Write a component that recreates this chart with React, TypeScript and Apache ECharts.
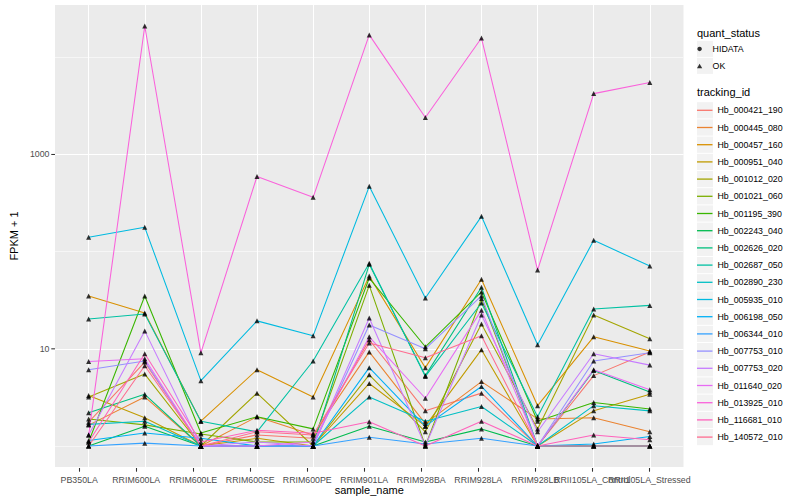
import React, { useEffect, useRef } from 'react';
import * as echarts from 'echarts';

const categories = ['PB350LA', 'RRIM600LA', 'RRIM600LE', 'RRIM600SE', 'RRIM600PE', 'RRIM901LA', 'RRIM928BA', 'RRIM928LA', 'RRIM928LB', 'RRII105LA_Control', 'RRII105LA_Stressed'];

const trackingIds = ['Hb_000421_190', 'Hb_000445_080', 'Hb_000457_160', 'Hb_000951_040', 'Hb_001012_020', 'Hb_001021_060', 'Hb_001195_390', 'Hb_002243_040', 'Hb_002626_020', 'Hb_002687_050', 'Hb_002890_230', 'Hb_005935_010', 'Hb_006198_050', 'Hb_006344_010', 'Hb_007753_010', 'Hb_007753_020', 'Hb_011640_020', 'Hb_013925_010', 'Hb_116681_010', 'Hb_140572_010'];

const colors = ['#F8766D', '#EA8331', '#D89000', '#C09B00', '#A3A500', '#7CAE00', '#39B600', '#00BB4E', '#00BF7D', '#00C1A3', '#00BFC4', '#00BAE0', '#00B0F6', '#35A2FF', '#9590FF', '#C77CFF', '#E76BF3', '#FA62DB', '#FF62BC', '#FF6C90'];

// FPKM + 1 per sample, in category order
const v000421_190 = [1.76, 7.3, 1.0, 1.3, 1.2, 12.4, 2.3, 3.5, 1.0, 5.3, 9.3];
const v000445_080 = [1.64, 3.2, 1.0, 2.0, 1.3, 9.3, 1.7, 4.6, 1.9, 1.95, 1.4];
const v000457_160 = [35, 23.4, 1.8, 6.1, 3.2, 56, 6.4, 52, 2.6, 13.3, 9.5];
const v000951_040 = [3.3, 1.95, 1.0, 1.2, 1.0, 4.4, 1.6, 9.8, 1.0, 2.3, 3.4];
const v001012_020 = [3.2, 5.5, 1.0, 3.5, 1.0, 5.4, 1.4, 18, 1.5, 22.3, 12.7];
const v001021_060 = [1.9, 1.65, 1.33, 1.1, 1.1, 45, 1.0, 33, 1.0, 1.0, 1.0];
const v001195_390 = [1.1, 35, 1.36, 2.0, 1.5, 53.5, 10.5, 38.5, 1.8, 2.8, 2.4];
const v002243_040 = [1.0, 1.6, 1.0, 1.0, 1.0, 1.6, 1.1, 1.5, 1.0, 1.0, 1.0];
const v002626_020 = [2.2, 3.4, 1.0, 1.0, 1.0, 74, 5.3, 43, 1.0, 6.0, 3.6];
const v002687_050 = [20.3, 22.8, 1.8, 1.4, 7.5, 76, 5.2, 29.6, 2.0, 25.7, 28];
const v002890_230 = [1.67, 1.8, 1.0, 1.0, 1.0, 3.2, 1.8, 2.55, 1.0, 2.6, 2.3];
const v005935_010 = [141, 178, 4.7, 19.4, 13.6, 470, 33.4, 231, 11, 131, 71];
const v006198_050 = [1.14, 1.36, 1.2, 1.0, 1.0, 6.4, 1.6, 4.1, 1.0, 1.05, 1.25];
const v006344_010 = [1.0, 1.07, 1.0, 1.0, 1.0, 1.23, 1.05, 1.2, 1.0, 1.0, 1.0];
const v007753_010 = [6.1, 7.5, 1.0, 1.0, 1.0, 17.6, 10.0, 35, 1.0, 7.5, 9.1];
const v007753_020 = [1.3, 15.3, 1.0, 1.1, 1.0, 20.8, 1.0, 22.3, 1.4, 8.9, 6.8];
const v011640_020 = [7.4, 7.9, 1.0, 1.0, 1.1, 13.3, 3.1, 25, 1.0, 6.1, 3.8];
const v013925_010 = [1.3, 21000, 9.1, 594, 362, 17000, 2400, 15800, 64.6, 4230, 5500];
const v116681_010 = [1.1, 8.9, 1.1, 1.45, 1.35, 1.78, 1.0, 1.8, 1.0, 1.3, 1.16];
const v140572_010 = [1.0, 6.7, 1.0, 1.4, 1.3, 11.5, 8.1, 13.6, 1.0, 1.0, 1.0];

const seriesValues = [v000421_190, v000445_080, v000457_160, v000951_040, v001012_020, v001021_060, v001195_390, v002243_040, v002626_020, v002687_050, v002890_230, v005935_010, v006198_050, v006344_010, v007753_010, v007753_020, v011640_020, v013925_010, v116681_010, v140572_010];

const quantStatus = ['HIDATA', 'OK'];
const yLabelValues = [10, 1000];

const FONT = '"Liberation Sans", Arial, Helvetica, sans-serif';

export default function App() {
  const ref = useRef<HTMLDivElement>(null);
  useEffect(() => {
    if (!ref.current) return;
    const chart = echarts.init(ref.current, undefined, { renderer: 'svg' });

    const all = seriesValues.flat();
    const lmin = Math.log10(Math.min(...all));
    const lmax = Math.log10(Math.max(...all));
    const span = lmax - lmin;
    const yMin = Math.pow(10, lmin - 0.05 * span);
    const yMax = Math.pow(10, lmax + 0.05 * span);

    // panel geometry (ggplot discrete expansion of 0.6 on each side)
    const panelLeft = 45;
    const panelRight = 683.5;
    const expand = 0.6;
    const n = categories.length;
    const step = (panelRight - panelLeft) / (n - 1 + 2 * expand);
    const labelLeft = panelLeft + (expand - 0.5) * step;
    const labelRight = panelRight - (expand - 0.5) * step;

    const lineSeries = trackingIds.map((id, i) => ({
      name: id,
      type: 'line',
      data: seriesValues[i].map((v, j) => [j, v]),
      symbol: 'none',
      color: colors[i],
      itemStyle: { color: colors[i] },
      lineStyle: { color: colors[i], width: 1.07 },
      z: 2,
      silent: true,
    }));

    const okPoints: number[][] = [];
    seriesValues.forEach((arr) => arr.forEach((v, j) => okPoints.push([j, v])));

    const keyTop = 101.7;
    const keyStep = 17.2;
    const quantTop = 40.4;
    const quantStep = 17;
    const graphics: any[] = [];
    quantStatus.forEach((_, i) => {
      graphics.push({ type: 'rect', shape: { x: 697, y: quantTop + i * quantStep + 0.5, width: 16, height: 16 }, style: { fill: '#F2F2F2' }, z: 1 });
    });
    trackingIds.forEach((_, i) => {
      graphics.push({ type: 'rect', shape: { x: 697, y: keyTop + i * keyStep + 0.5, width: 16, height: 16.2 }, style: { fill: '#F2F2F2' }, z: 1 });
    });
    graphics.push({ type: 'text', x: 697, y: 32.5, style: { text: 'quant_status', font: `11px ${FONT}`, fill: '#000', verticalAlign: 'middle' }, z: 1 });
    graphics.push({ type: 'text', x: 697, y: 92, style: { text: 'tracking_id', font: `11px ${FONT}`, fill: '#000', verticalAlign: 'middle' }, z: 1 });

    const option: any = {
      animation: false,
      backgroundColor: '#FFFFFF',
      textStyle: { fontFamily: FONT },
      grid: [
        {
          left: panelLeft, right: 800 - panelRight, top: 5, bottom: 32,
          show: true, backgroundColor: '#EBEBEB', borderWidth: 0,
        },
        {
          left: labelLeft, right: 800 - labelRight, top: 5, bottom: 32,
          show: false,
        },
      ],
      xAxis: [
        {
          type: 'value',
          gridIndex: 0,
          min: -expand,
          max: n - 1 + expand,
          name: 'sample_name',
          nameLocation: 'middle',
          nameGap: 17,
          nameTextStyle: { fontSize: 11, color: '#000', fontFamily: FONT },
          axisLine: { show: false },
          axisTick: { show: false, customValues: categories.map((_, i) => i) },
          axisLabel: { show: false, customValues: categories.map((_, i) => i) },
          splitLine: { show: true, lineStyle: { color: '#FFFFFF', width: 1.07 } },
        },
        {
          type: 'category',
          gridIndex: 1,
          data: categories,
          boundaryGap: true,
          axisLine: { show: false },
          axisTick: { show: true, alignWithLabel: true, interval: 0, length: 3.7, lineStyle: { color: '#333333', width: 1.07 } },
          axisLabel: { show: true, interval: 0, fontSize: 8.8, color: '#4D4D4D', margin: 7.5, fontFamily: FONT, hideOverlap: false },
          splitLine: { show: false },
        },
      ],
      yAxis: [
        {
          type: 'log',
          gridIndex: 0,
          logBase: 10,
          min: yMin,
          max: yMax,
          name: 'FPKM + 1',
          nameLocation: 'middle',
          nameGap: 26,
          nameRotate: 90,
          nameTextStyle: { fontSize: 11, color: '#000', fontFamily: FONT },
          axisLine: { show: false },
          axisTick: { show: false },
          axisLabel: {
            margin: 0,
            formatter: (v: number) => {
              const hit = yLabelValues.find((t) => Math.abs(Math.log10(v) - Math.log10(t)) < 1e-6);
              return hit !== undefined ? `{l|${hit}}{t|}` : '';
            },
            rich: {
              l: { fontSize: 8.8, color: '#4D4D4D', fontFamily: FONT, padding: [0, 1.8, 0, 0] },
              t: { width: 3.7, height: 1.07, backgroundColor: '#333333' },
            },
          },
          splitLine: { show: true, showMinLine: false, showMaxLine: false, lineStyle: { color: ['#F6F6F6', '#FFFFFF'], width: 1.07 } },
        },
        {
          type: 'value',
          gridIndex: 1,
          min: 0,
          max: 1,
          show: false,
        },
      ],
      legend: [
        {
          orient: 'vertical',
          left: 697,
          top: quantTop,
          padding: 0,
          itemWidth: 16,
          itemHeight: 4.5,
          itemGap: 0,
          selectedMode: false,
          itemStyle: { borderWidth: 0 },
          data: [
            { name: 'HIDATA', icon: 'path://M0,0 A1,1 0 1,0 0.001,0 Z' },
            { name: 'OK', icon: 'path://M0,-1 L1.1547,1 L-1.1547,1 Z' },
          ],
          textStyle: { fontSize: 8.8, color: '#000', fontFamily: FONT, lineHeight: quantStep },
          z: 4,
        },
        {
          orient: 'vertical',
          left: 697,
          top: keyTop,
          padding: 0,
          itemWidth: 15.5,
          itemHeight: 1.3,
          itemGap: 0,
          icon: 'rect',
          selectedMode: false,
          itemStyle: { borderWidth: 0, opacity: 1 },
          data: trackingIds,
          textStyle: { fontSize: 8.8, color: '#000', fontFamily: FONT, lineHeight: keyStep },
          z: 4,
        },
      ],
      graphic: graphics,
      series: [
        ...lineSeries,
        {
          name: 'HIDATA', type: 'scatter', data: [], symbol: 'circle', symbolSize: 4, color: '#000', itemStyle: { color: '#000' },
        },
        {
          name: 'OK', type: 'scatter', data: okPoints, symbol: 'triangle', symbolSize: 5, color: '#000',
          itemStyle: { color: '#000' }, z: 5, silent: true,
        },
      ],
    };
    chart.setOption(option);
    return () => chart.dispose();
  }, []);
  return <div ref={ref} style={{ position: 'fixed', left: 0, top: 0, width: 800, height: 500 }} />;
}
